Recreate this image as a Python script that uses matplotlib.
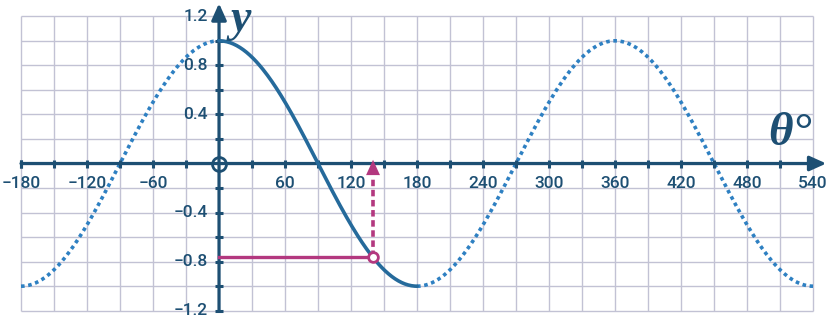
import numpy as np
import matplotlib
matplotlib.use('Agg')
import matplotlib.pyplot as plt

plt.rcParams['mathtext.fontset'] = 'custom'
plt.rcParams['mathtext.bfit'] = 'Liberation Serif:italic:bold'

# Chart content
x_grid = np.arange(-180, 541, 30)
y_grid = np.round(np.arange(-1.2, 1.21, 0.2), 1)
x_labels = [-180, -120, -60, 60, 120, 180, 240, 300, 360, 420, 480, 540]
y_labels = [-1.2, -0.8, -0.4, 0.4, 0.8, 1.2]
y_ticks = [-1.2, -1.0, -0.8, -0.6, -0.4, -0.2, 0.2, 0.4, 0.6, 0.8, 1.0]
x_ticks = [-180, -150, -120, -90, -60, -30, 30, 60, 90, 120, 150, 180,
           210, 240, 270, 300, 330, 360, 390, 420, 450, 480, 510]
theta_left = np.arange(-180, 1, 1)
theta_main = np.arange(0, 181, 1)
theta_right = np.arange(180, 541, 1)
theta_pick = 140

# Colours
navy = '#1d4f73'
blue_solid = '#256a9b'
blue_dot = '#2e80c2'
magenta = '#b3387f'
grid_col = '#c2c2d4'

fig = plt.figure(figsize=(8.4, 3.21), dpi=100)
ax = fig.add_axes([0, 0, 1, 1])
ax.set_xlim(-199.1, 564.5)
ax.set_ylim(-1.2836, 1.3325)
ax.axis('off')

# Grid
ax.vlines(x_grid, -1.2, 1.2, color=grid_col, lw=1.0, zorder=1)
ax.hlines(y_grid, -180, 540, color=grid_col, lw=1.0, zorder=1)

# Axes with arrow heads
ax.annotate('', xy=(552, 0), xytext=(-180, 0),
            arrowprops=dict(arrowstyle='-|>,head_length=1.0,head_width=0.45',
                            mutation_scale=10, lw=2.3, color=navy,
                            shrinkA=0, shrinkB=0), zorder=3)
ax.annotate('', xy=(0, 1.305), xytext=(0, -1.2),
            arrowprops=dict(arrowstyle='-|>,head_length=1.0,head_width=0.45',
                            mutation_scale=10, lw=2.3, color=navy,
                            shrinkA=0, shrinkB=0), zorder=3)
ax.plot(x_ticks + [-180], [0] * (len(x_ticks) + 1), ls='none', marker='|',
        ms=5.5, mew=2.2, color=navy, zorder=3)
ax.plot([0] * len(y_ticks), y_ticks, ls='none', marker='_',
        ms=6, mew=2.2, color=navy, zorder=3)
ax.plot([0], [0], marker='o', ms=10, mfc='none', mec=navy, mew=2, zorder=4)

# Curve
ax.plot(theta_left, np.cos(np.radians(theta_left)), color=blue_dot, lw=2.6,
        ls=(0, (1, 1)), dash_capstyle='butt', zorder=2)
ax.plot(theta_right, np.cos(np.radians(theta_right)), color=blue_dot, lw=2.6,
        ls=(0, (1, 1)), dash_capstyle='butt', zorder=2)
ax.plot(theta_main, np.cos(np.radians(theta_main)), color=blue_solid, lw=2.6,
        solid_capstyle='round', zorder=3)

# Reading off cos(140)
y_pick = np.cos(np.radians(theta_pick))
ax.plot([0, theta_pick], [y_pick, y_pick], color=magenta, lw=2.4, zorder=4)
ax.plot([theta_pick, theta_pick], [y_pick, -0.12], color=magenta, lw=2.6,
        ls=(0, (1.8, 1)), zorder=4)
ax.annotate('', xy=(theta_pick, 0.03), xytext=(theta_pick, -0.14),
            arrowprops=dict(arrowstyle='-|>,head_length=1.1,head_width=0.5',
                            mutation_scale=10, lw=0, color=magenta,
                            shrinkA=0, shrinkB=0), zorder=4)
ax.plot([theta_pick], [y_pick], marker='o', ms=7, mfc='white', mec=magenta,
        mew=2, zorder=5)

# Tick labels
lab_font = dict(family=['Roboto', 'DejaVu Sans'], size=12.5, weight='medium',
                color=navy)
for v in x_labels:
    ax.text(v, -0.105, str(v).replace('-', '\u2212'), ha='center', va='top',
            **lab_font)
for v in y_labels:
    ax.text(-10, v, f'{v:.1f}'.replace('-', '\u2212'), ha='right',
            va='center', **lab_font)

# Axis names
ax.text(6, 1.345, r'$\mathbfit{y}$', size=33, color=navy, ha='left',
        va='top')
ax.text(499, 0.15, '\u03b8\u00b0', family='Liberation Serif', style='italic',
        weight='bold', size=34, color=navy, ha='left', va='baseline')

fig.savefig('out.png', dpi=100)
